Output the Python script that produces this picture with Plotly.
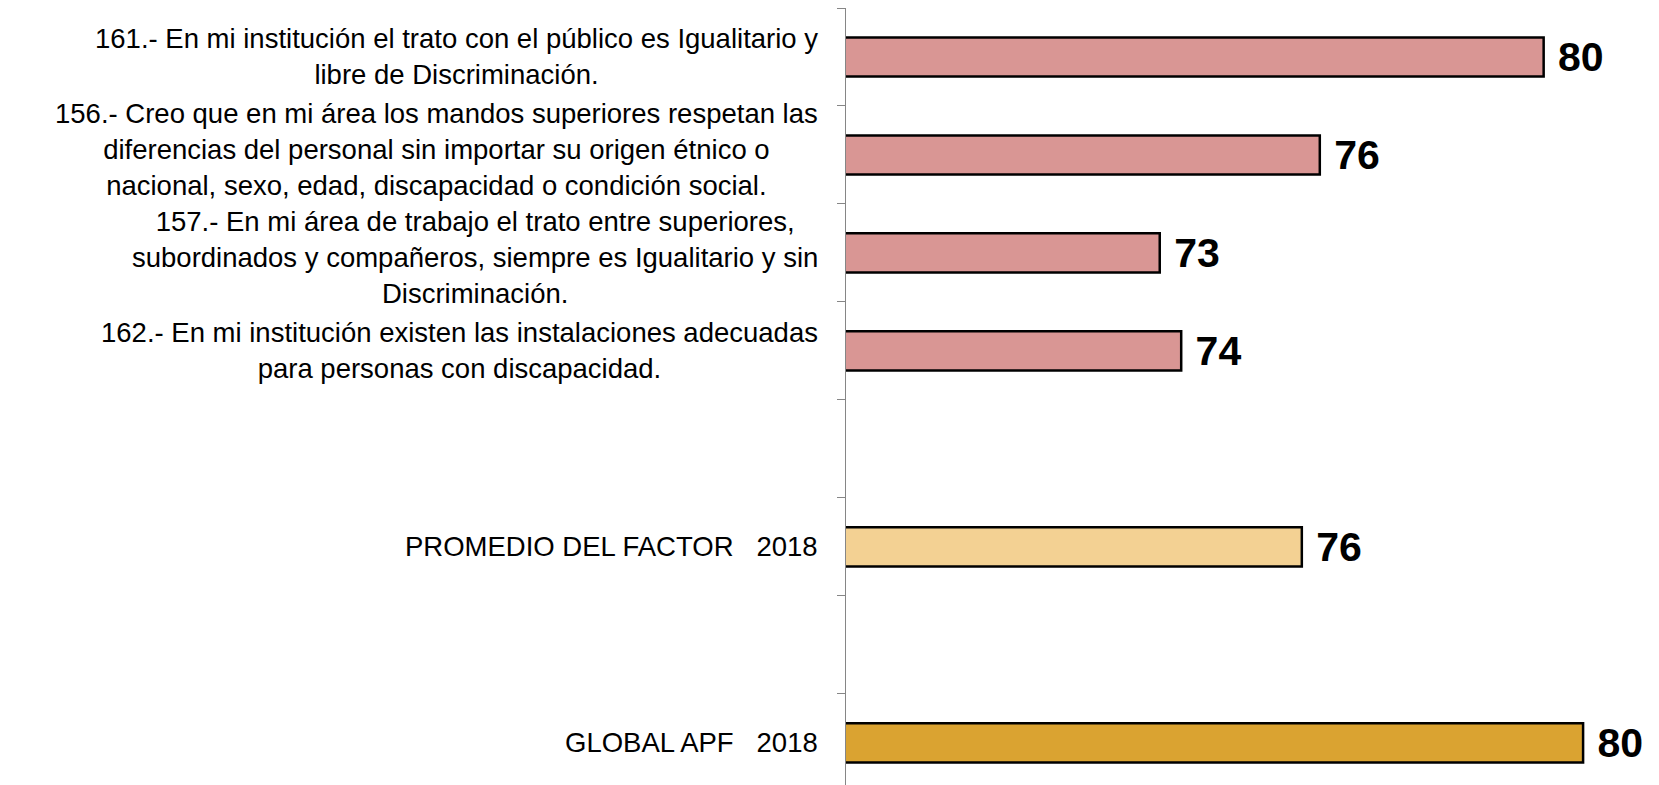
import plotly.graph_objects as go

# Categories (top to bottom); blank strings are empty slots on the axis
categories = [
    "161.- En mi institución el trato con el público es Igualitario y<br>libre de Discriminación.",
    "156.- Creo que en mi área los mandos superiores respetan las<br>diferencias del personal sin importar su origen étnico o<br>nacional, sexo, edad, discapacidad o condición social.",
    "157.- En mi área de trabajo el trato entre superiores,<br>subordinados y compañeros, siempre es Igualitario y sin<br>Discriminación.",
    "162.- En mi institución existen las instalaciones adecuadas<br>para personas con discapacidad.",
    " ",
    "PROMEDIO DEL FACTOR \u00a0\u00a02018",
    "  ",
    "GLOBAL APF \u00a0\u00a02018",
]
values = [79.78, 75.92, 73.16, 73.53, None, 75.61, None, 80.46]
bar_colors = ["#D99694", "#D99694", "#D99694", "#D99694", "#FFFFFF", "#F3D193", "#FFFFFF", "#DAA331"]
label_yshift = [0, 5, -5, 0, 0, 0, 0, 0]

x_min, x_max = 67.75, 81.7

fig = go.Figure()
fig.add_trace(go.Bar(
    y=categories,
    x=values,
    orientation="h",
    marker=dict(color=bar_colors, line=dict(color="black", width=2.5)),
    width=0.4,
    texttemplate=" %{x:.0f}",
    textposition="outside",
    textfont=dict(family="Liberation Sans, Arial", size=41, color="black", weight="bold"),
    cliponaxis=False,
    constraintext="none",
    hoverinfo="skip",
))

annotations = []
for cat, ys in zip(categories, label_yshift):
    if cat.strip() == "":
        continue
    annotations.append(dict(
        xref="paper", yref="y", x=0, y=cat,
        xanchor="right", yanchor="middle", xshift=-26, yshift=ys,
        text=cat, showarrow=False, align="center",
        font=dict(family="Liberation Sans, Arial", size=27.5, color="black"),
    ))

# page body has an 8px default margin: figure is offset by 8px right/down
fig.update_layout(
    width=1651, height=777,
    margin=dict(l=838, r=4, t=0, b=0),
    plot_bgcolor="white", paper_bgcolor="white",
    showlegend=False,
    annotations=annotations,
    xaxis=dict(range=[x_min, x_max], visible=False, showgrid=False, zeroline=False),
    yaxis=dict(
        type="category", categoryorder="array", categoryarray=categories,
        range=[7.43, -0.5],
        showticklabels=False, showgrid=False, zeroline=False,
        showline=True, linecolor="#868686", linewidth=1,
        ticks="outside", ticklen=8, tickcolor="#868686", tickwidth=1,
        tickson="boundaries",
    ),
)

fig.write_html("out.html")
